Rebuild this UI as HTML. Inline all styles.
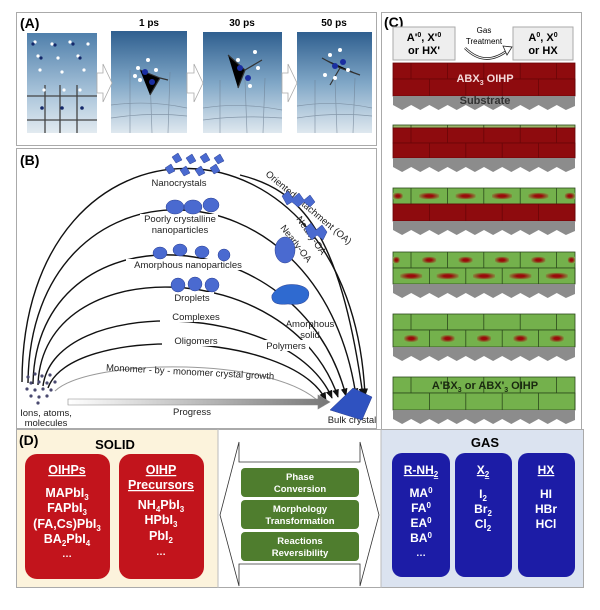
<!DOCTYPE html>
<html><head><meta charset="utf-8"><style>
html,body{margin:0;padding:0;background:#fff;}
svg{display:block;font-family:"Liberation Sans",Arial,sans-serif;}
.b{font-weight:bold;}
</style></head><body>
<svg width="600" height="610" viewBox="0 0 600 610" xmlns="http://www.w3.org/2000/svg">
<defs>
<linearGradient id="sea" x1="0" y1="0" x2="0" y2="1">
<stop offset="0" stop-color="#2f5f8f"/><stop offset="0.5" stop-color="#7fa6c6"/><stop offset="1" stop-color="#dfe8ef"/></linearGradient>
<linearGradient id="sea1" x1="0" y1="0" x2="0" y2="1">
<stop offset="0" stop-color="#4f7fab"/><stop offset="0.6" stop-color="#a9c4da"/><stop offset="1" stop-color="#e2eaf0"/></linearGradient>
<linearGradient id="prog" x1="0" x2="1"><stop offset="0" stop-color="#fff"/><stop offset="1" stop-color="#777"/></linearGradient>
<radialGradient id="gr" cx="0.5" cy="0.5" r="0.6"><stop offset="0.3" stop-color="#9a0a0a"/><stop offset="1" stop-color="#7ab24c"/></radialGradient>
<marker id="ar" viewBox="0 0 10 10" refX="9" refY="5" markerWidth="6" markerHeight="6" orient="auto"><path d="M0 1 L10 5 L0 9 Z" fill="#111"/></marker>
<marker id="arg" viewBox="0 0 10 10" refX="9" refY="5" markerWidth="6" markerHeight="6" orient="auto"><path d="M0 1 L10 5 L0 9 Z" fill="#999"/></marker>
</defs>

<!-- Panel A -->
<rect x="16.5" y="12.5" width="360" height="133" fill="#fff" stroke="#aaa"/>
<text x="20" y="28" font-size="14" class="b">(A)</text>
<text x="149" y="26" font-size="10" class="b" text-anchor="middle">1 ps</text>
<text x="242" y="26" font-size="10" class="b" text-anchor="middle">30 ps</text>
<text x="334" y="26" font-size="10" class="b" text-anchor="middle">50 ps</text>
<rect x="27" y="33" width="70" height="100" fill="url(#sea1)"/>
<g stroke="#444" stroke-width="1.3">
<line x1="27" y1="96" x2="97" y2="96"/><line x1="27" y1="120" x2="97" y2="120"/>
<line x1="45" y1="85" x2="45" y2="133"/><line x1="60" y1="85" x2="60" y2="133"/><line x1="77" y1="85" x2="77" y2="133"/>
</g>
<g fill="#fff"><circle cx="35" cy="42" r="1.6"/><circle cx="52" cy="44" r="1.6"/><circle cx="70" cy="42" r="1.6"/><circle cx="88" cy="44" r="1.6"/><circle cx="38" cy="56" r="1.6"/><circle cx="58" cy="58" r="1.6"/><circle cx="78" cy="56" r="1.6"/><circle cx="40" cy="70" r="1.6"/><circle cx="62" cy="72" r="1.6"/><circle cx="84" cy="70" r="1.6"/><circle cx="44" cy="90" r="1.6"/><circle cx="64" cy="90" r="1.6"/><circle cx="80" cy="90" r="1.6"/></g>
<g fill="#14286a"><circle cx="33" cy="44" r="1.6"/><circle cx="55" cy="45" r="1.6"/><circle cx="73" cy="44" r="1.6"/><circle cx="41" cy="58" r="1.6"/><circle cx="80" cy="58" r="1.6"/><circle cx="42" cy="108" r="1.8"/><circle cx="62" cy="108" r="1.8"/><circle cx="82" cy="108" r="1.8"/></g>
<rect x="111" y="31" width="76" height="102" fill="url(#sea)"/>
<rect x="203" y="32" width="79" height="101" fill="url(#sea)"/>
<rect x="297" y="32" width="75" height="101" fill="url(#sea)"/>
<g stroke="#6d7f92" stroke-width="0.7" fill="none" opacity="0.7">
<path d="M111 105 Q150 100 187 108 M111 118 Q150 112 187 116 M130 70 L130 133 M150 75 L152 133 M170 72 L168 133"/>
<path d="M203 108 Q240 102 282 110 M203 120 Q240 115 282 118 M220 80 L220 133 M245 80 L247 133 M265 78 L263 133"/>
<path d="M297 106 Q335 100 372 108 M297 118 Q335 112 372 116 M315 80 L315 133 M335 80 L337 133 M355 78 L353 133"/>
</g>
<g stroke="#333" stroke-width="1.2">
<path d="M140 70 L160 78 L150 95 M160 78 L168 80"/><path d="M228 55 L245 70 L238 88 M245 70 L262 60"/><path d="M322 58 L340 68 L360 75 M340 68 L330 85"/></g>
<g fill="#1a2ea0"><circle cx="145" cy="72" r="3"/><circle cx="152" cy="82" r="3"/><circle cx="240" cy="68" r="3"/><circle cx="248" cy="78" r="3"/><circle cx="335" cy="66" r="3"/><circle cx="343" cy="62" r="3"/></g>
<g fill="#fff"><circle cx="138" cy="68" r="2"/><circle cx="140" cy="80" r="2"/><circle cx="148" cy="60" r="2"/><circle cx="156" cy="70" r="2"/><circle cx="135" cy="76" r="2"/><circle cx="238" cy="60" r="2"/><circle cx="255" cy="52" r="2"/><circle cx="250" cy="86" r="2"/><circle cx="258" cy="68" r="2"/><circle cx="330" cy="55" r="2"/><circle cx="340" cy="50" r="2"/><circle cx="348" cy="70" r="2"/><circle cx="325" cy="75" r="2"/><circle cx="335" cy="78" r="2"/></g>
<g fill="#fff" stroke="#aaa" stroke-width="0.8">
<polygon points="97,73 103,73 103,64 112,83 103,102 103,93 97,93"/>
<polygon points="187,73 194,73 194,64 203,83 194,102 194,93 187,93"/>
<polygon points="282,73 288,73 288,64 297,83 288,102 288,93 282,93"/>
</g>

<!-- Panel B -->
<rect x="16.5" y="148.5" width="360" height="280" fill="#fff" stroke="#aaa"/>
<text x="20" y="165" font-size="14" class="b">(B)</text>
<g fill="none" stroke="#111" stroke-width="1.4" marker-end="url(#ar)">
<path d="M22 382 C22 95, 352 95, 365 396"/>
<path d="M28 383 C30 150, 320 150, 356 396"/>
<path d="M33 384 C36 205, 300 215, 346 396"/>
<path d="M38 385 C42 250, 290 255, 338 397"/>
<path d="M43 386 C55 295, 290 300, 332 398"/>
<path d="M48 388 C70 325, 290 330, 326 400"/>
<path d="M240 175 C300 190, 340 230, 363 396"/>
</g>
<path d="M55 391 C90 358, 280 355, 323 406" fill="none" stroke="#999" stroke-width="1" marker-end="url(#arg)"/>
<polygon points="68,399 318,399 318,395 330,402 318,409 318,405 68,405" fill="url(#prog)" stroke="#888" stroke-width="0.6"/>
<g fill="#fff"><rect x="143" y="177" width="72" height="11"/><rect x="140" y="214" width="78" height="22"/><rect x="126" y="259" width="124" height="11"/><rect x="170" y="292" width="44" height="11"/><rect x="160" y="311" width="72" height="11"/><rect x="162" y="335" width="68" height="11"/><rect x="263" y="340" width="46" height="11"/></g>
<g font-size="9.5" fill="#222" text-anchor="middle">
<text x="179" y="186">Nanocrystals</text>
<text x="180" y="222">Poorly crystalline</text><text x="180" y="233">nanoparticles</text>
<text x="188" y="268">Amorphous nanoparticles</text>
<text x="192" y="301">Droplets</text>
<text x="196" y="320">Complexes</text>
<text x="196" y="344">Oligomers</text>
<text x="286" y="349">Polymers</text>
<text x="310" y="327">Amorphous</text><text x="310" y="338">solid</text>
<text x="190" y="375" transform="rotate(3 190 375)">Monomer - by - monomer crystal growth</text>
<text x="192" y="415">Progress</text>
<text x="46" y="416">Ions, atoms,</text><text x="46" y="426">molecules</text>
<text x="352" y="423">Bulk crystal</text>
<text x="265" y="175" text-anchor="start" transform="rotate(40 265 175)">Oriented attachment (OA)</text>
<text x="296" y="219" text-anchor="start" transform="rotate(55 296 219)">Nearly-OA</text>
<text x="280" y="228" text-anchor="start" transform="rotate(52 280 228)">Nearly-OA</text>
</g>
<g fill="#4a6ad0" stroke="#2a3e90" stroke-width="0.5">
<polygon points="172,157 178,153 182,160 176,163"/><polygon points="186,158 192,154 196,161 190,164"/><polygon points="200,157 206,153 210,160 204,163"/><polygon points="214,158 220,154 224,161 218,164"/>
<polygon points="165,168 171,164 175,171 169,174"/><polygon points="180,170 186,166 190,173 184,176"/><polygon points="195,170 201,166 205,173 199,176"/><polygon points="210,168 216,164 220,171 214,174"/>
<ellipse cx="175" cy="207" rx="9" ry="7"/><ellipse cx="193" cy="207" rx="9" ry="7"/><ellipse cx="211" cy="205" rx="8" ry="7"/>
<ellipse cx="160" cy="253" rx="7" ry="6"/><ellipse cx="180" cy="250" rx="7" ry="6"/><ellipse cx="202" cy="252" rx="7" ry="6"/><ellipse cx="224" cy="255" rx="6" ry="6"/>
<circle cx="178" cy="285" r="7"/><circle cx="195" cy="284" r="7"/><circle cx="212" cy="285" r="7"/>
<path d="M272 295 Q280 282 298 285 Q312 288 308 298 Q304 306 288 304 Q270 306 272 295Z" fill="#2f6ad0"/>
<polygon points="282,196 288,191 293,198 299,193 304,200 310,195 315,202 310,207 304,202 298,207 292,202 287,205"/>
<polygon points="305,228 311,223 316,230 322,225 327,232 323,240 317,235 312,240 308,235"/>
<ellipse cx="285" cy="250" rx="10" ry="13"/>
<polygon points="330,410 353,388 372,397 362,420" fill="#2f52c0"/>
</g>
<g fill="#4a4a70"><circle cx="28" cy="377" r="1.6"/><circle cx="35" cy="374" r="1.6"/><circle cx="42" cy="376" r="1.6"/><circle cx="50" cy="375" r="1.6"/><circle cx="31" cy="383" r="1.6"/><circle cx="39" cy="382" r="1.6"/><circle cx="47" cy="383" r="1.6"/><circle cx="55" cy="382" r="1.6"/><circle cx="27" cy="389" r="1.6"/><circle cx="35" cy="390" r="1.6"/><circle cx="43" cy="389" r="1.6"/><circle cx="51" cy="390" r="1.6"/><circle cx="31" cy="396" r="1.6"/><circle cx="39" cy="397" r="1.6"/><circle cx="47" cy="396" r="1.6"/><circle cx="38" cy="403" r="1.6"/></g>

<!-- Panel C -->
<rect x="381.5" y="12.5" width="200" height="417" fill="#fff" stroke="#aaa"/>
<text x="384" y="27" font-size="14" class="b">(C)</text>
<rect x="393" y="27" width="62" height="33" fill="#eee" stroke="#aaa"/>
<rect x="513" y="27" width="60" height="33" fill="#eee" stroke="#aaa"/>
<text x="424" y="41" font-size="11" class="b" text-anchor="middle">A'<tspan font-size="7" dy="-4">0</tspan><tspan dy="4">, X'</tspan><tspan font-size="7" dy="-4">0</tspan></text>
<text x="424" y="54" font-size="11" class="b" text-anchor="middle">or HX'</text>
<text x="543" y="41" font-size="11" class="b" text-anchor="middle">A<tspan font-size="7" dy="-4">0</tspan><tspan dy="4">, X</tspan><tspan font-size="7" dy="-4">0</tspan></text>
<text x="543" y="54" font-size="11" class="b" text-anchor="middle">or HX</text>
<text x="484" y="33" font-size="8" text-anchor="middle">Gas</text>
<text x="484" y="44" font-size="8" text-anchor="middle">Treatment</text>
<path d="M465 48 Q485 68 508 50" fill="none" stroke="#222" stroke-width="2.5"/>
<path d="M465 48 Q485 68 508 50" fill="none" stroke="#fff" stroke-width="1"/>
<polygon points="503,46 512,47 507,55" fill="#fff" stroke="#222" stroke-width="0.8"/>

<g id="layers"></g>
<text x="485" y="82" font-size="11" class="b" fill="#f4d8d8" text-anchor="middle">ABX<tspan font-size="7" dy="3">3</tspan><tspan dy="-3"> OIHP</tspan></text>
<text x="485" y="104" font-size="11" class="b" fill="#333" text-anchor="middle">Substrate</text>

<!-- Panel D -->
<rect x="16" y="429" width="202" height="159" fill="#fcf3dc"/>
<rect x="218" y="429" width="163" height="159" fill="#fff"/>
<rect x="381" y="429" width="203" height="159" fill="#dbe3f0"/>
<rect x="16.5" y="429.5" width="567" height="158" fill="none" stroke="#aaa"/>
<line x1="218" y1="429" x2="218" y2="588" stroke="#bbb"/><line x1="381" y1="429" x2="381" y2="588" stroke="#bbb"/>
<text x="19" y="445" font-size="14" class="b">(D)</text>
<text x="115" y="449" font-size="13" class="b" text-anchor="middle">SOLID</text>
<text x="485" y="447" font-size="13" class="b" text-anchor="middle">GAS</text>
<rect x="25" y="454" width="85" height="125" rx="12" fill="#c2141c"/>
<rect x="119" y="454" width="85" height="125" rx="12" fill="#c2141c"/>
<g fill="#fff" font-size="12.5" class="b" text-anchor="middle">
<text x="67" y="474" text-decoration="underline">OIHPs</text>
<text x="67" y="497">MAPbI<tspan font-size="8" dy="3">3</tspan></text>
<text x="67" y="512">FAPbI<tspan font-size="8" dy="3">3</tspan></text>
<text x="67" y="528">(FA,Cs)PbI<tspan font-size="8" dy="3">3</tspan></text>
<text x="67" y="543">BA<tspan font-size="8" dy="3">2</tspan><tspan dy="-3">PbI</tspan><tspan font-size="8" dy="3">4</tspan></text>
<text x="67" y="557" font-size="10">…</text>
<text x="161" y="474" text-decoration="underline">OIHP</text>
<text x="161" y="489" text-decoration="underline">Precursors</text>
<text x="161" y="509">NH<tspan font-size="8" dy="3">4</tspan><tspan dy="-3">PbI</tspan><tspan font-size="8" dy="3">3</tspan></text>
<text x="161" y="524">HPbI<tspan font-size="8" dy="3">3</tspan></text>
<text x="161" y="540">PbI<tspan font-size="8" dy="3">2</tspan></text>
<text x="161" y="555" font-size="10">…</text>
</g>
<polygon points="220,515 239,442 239,462 360,462 360,442 379,515 360,586 360,564 239,564 239,586" fill="#fff" stroke="#333" stroke-width="0.8"/>
<rect x="241" y="468" width="118" height="29" rx="4" fill="#4f7d2e"/>
<rect x="241" y="500" width="118" height="29" rx="4" fill="#4f7d2e"/>
<rect x="241" y="532" width="118" height="29" rx="4" fill="#4f7d2e"/>
<g fill="#fff" font-size="9.5" class="b" text-anchor="middle">
<text x="300" y="480">Phase</text><text x="300" y="492">Conversion</text>
<text x="300" y="512">Morphology</text><text x="300" y="524">Transformation</text>
<text x="300" y="544">Reactions</text><text x="300" y="556">Reversibility</text>
</g>
<rect x="392" y="453" width="58" height="124" rx="10" fill="#1c1ca6"/>
<rect x="455" y="453" width="57" height="124" rx="10" fill="#1c1ca6"/>
<rect x="518" y="453" width="57" height="124" rx="10" fill="#1c1ca6"/>
<g fill="#fff" font-size="12" class="b" text-anchor="middle">
<text x="421" y="474" text-decoration="underline">R-NH<tspan font-size="8" dy="3">2</tspan></text>
<text x="421" y="497">MA<tspan font-size="8" dy="-4">0</tspan></text>
<text x="421" y="512">FA<tspan font-size="8" dy="-4">0</tspan></text>
<text x="421" y="527">EA<tspan font-size="8" dy="-4">0</tspan></text>
<text x="421" y="542">BA<tspan font-size="8" dy="-4">0</tspan></text>
<text x="421" y="556" font-size="10">…</text>
<text x="483" y="474" text-decoration="underline">X<tspan font-size="8" dy="3">2</tspan></text>
<text x="483" y="498">I<tspan font-size="8" dy="3">2</tspan></text>
<text x="483" y="513">Br<tspan font-size="8" dy="3">2</tspan></text>
<text x="483" y="528">Cl<tspan font-size="8" dy="3">2</tspan></text>
<text x="546" y="474" text-decoration="underline">HX</text>
<text x="546" y="498">HI</text>
<text x="546" y="513">HBr</text>
<text x="546" y="528">HCl</text>
</g>
</svg>
<script>
(function(){
var ns="http://www.w3.org/2000/svg",g=document.getElementById("layers");
function el(t,a){var e=document.createElementNS(ns,t);for(var k in a)e.setAttribute(k,a[k]);g.appendChild(e);return e;}
var X0=393,X1=575,W=X1-X0,bw=36.4;
function ins1(x,y,h,ins){var ix=Math.max(X0,x+bw*0.5-ins/2),ex=Math.min(X1,x+bw*0.5+ins/2);if(ex>ix)el("rect",{x:ix,y:y+h*0.3,width:ex-ix,height:h*0.4,fill:"url(#gr)"});}
function row(y,h,off,fill,line,ins){
 el("rect",{x:X0,y:y,width:W,height:h,fill:fill,stroke:line,"stroke-width":0.8});
 for(var x=X0+off;x<X1;x+=bw){ if(x>X0)el("line",{x1:x,y1:y,x2:x,y2:y+h,stroke:line,"stroke-width":0.8});
  if(ins)ins1(x,y,h,ins);}
 if(ins)ins1(X0+off-bw,y,h,ins);
}
function sub(y){var d="M"+X0+" "+y+" L"+X1+" "+y+" L"+X1+" "+(y+10);for(var i=0;i<10;i++){var x=X1-i*W/10;d+=" L"+(x-W/20)+" "+(y+14)+" L"+(x-W/10)+" "+(y+9);}d+=" Z";el("path",{d:d,fill:"#8c8c8c"});}
var R="#8e0b0e",RL="#6a0508",G="#74b14c",GL="#2c4a1c";
row(63,16,18,R,RL);row(79,17,0,R,RL);sub(96);
row(125,3,18,"#9ab56a",GL);row(128,15,18,R,RL);row(143,15,0,R,RL);sub(158);
row(188,16,18,G,GL,20);row(204,17,0,R,RL);sub(221);
row(252,16,18,G,GL,14);row(268,16,0,G,GL,22);sub(284);
row(314,16,18,G,GL);row(330,17,0,G,GL,14);sub(347);
row(377,16,18,G,GL);row(393,17,0,G,GL);sub(410);
var t=el("text",{x:485,y:389,"font-size":11,"font-weight":"bold","text-anchor":"middle",fill:"#1a2a10"});
t.innerHTML="A'BX<tspan font-size='7' dy='3'>3</tspan><tspan dy='-3'> or ABX'</tspan><tspan font-size='7' dy='3'>3</tspan><tspan dy='-3'> OIHP</tspan>";
})();
</script>
</body></html>
